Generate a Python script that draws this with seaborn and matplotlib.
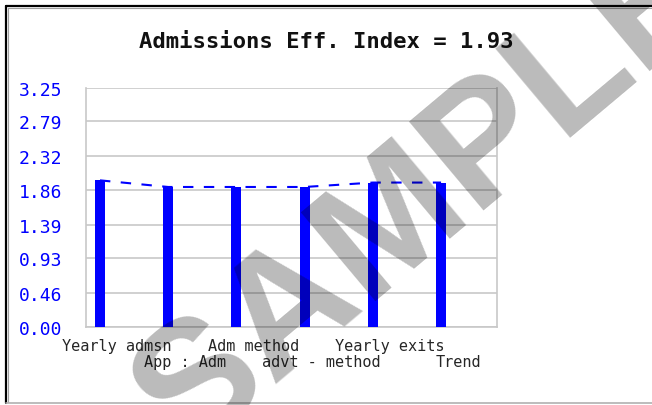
import numpy as np
import pandas as pd
import seaborn as sns
import matplotlib.pyplot as plt
from matplotlib.lines import Line2D


categories = ["Yearly admsn", "App : Adm", "Adm method", "advt - method", "Yearly exits", "Trend"]
values = [1.99, 1.90, 1.90, 1.90, 1.96, 1.96]
ytick_values = [0.00, 0.46, 0.93, 1.39, 1.86, 2.32, 2.79, 3.25]
ytick_labels = ["0.00", "0.46", "0.93", "1.39", "1.86", "2.32", "2.79", "3.25"]
title = "Admissions Eff. Index = 1.93"

BLUE = "#0000ff"
GRID = "#c8c8c8"

sns.set_style("white")
plt.rcParams["font.family"] = ["DejaVu Sans Mono", "DejaVu Sans"]

df = pd.DataFrame({"category": categories, "value": values})

fig = plt.figure(figsize=(6.52, 4.06), dpi=100)
ax = fig.add_axes([86 / 652, 1 - 328 / 406, 411 / 652, 239.5 / 406])

# dashed trend line through the bar tops (drawn under the bars)
sns.lineplot(x=np.arange(len(values)), y=values, ax=ax, color=BLUE,
             linewidth=1.5, zorder=2)
ax.lines[-1].set_dashes((5, 5))

sns.barplot(data=df, x="category", y="value", ax=ax, color=BLUE,
            width=0.147, saturation=1, zorder=3, linewidth=0)

ax.set_xlim(-0.205, 5.82)
ax.set_ylim(0, 3.25)
ax.set_yticks(ytick_values)
ax.set_yticklabels(ytick_labels, color=BLUE, fontsize=13)
ax.yaxis.grid(True, color=GRID, linewidth=1.2, zorder=0)
ax.set_axisbelow(True)

# labels alternate between two rows
xlabels = [c if i % 2 == 0 else "\n" + c for i, c in enumerate(categories)]
ax.set_xticks(np.arange(len(categories)) + 0.25)
ax.set_xticklabels(xlabels, fontsize=11, linespacing=1.05)
ax.tick_params(axis="x", length=0, pad=8)
ax.tick_params(axis="y", length=0, pad=17)
ax.set_xlabel("")
ax.set_ylabel("")

for side in ["left", "right", "bottom"]:
    ax.spines[side].set_color(GRID)
    ax.spines[side].set_linewidth(1.2)
ax.spines["top"].set_visible(False)

fig.text(0.5, 1 - 42 / 406, title, ha="center", va="center",
         fontsize=16, fontweight="bold", color="#111111")

# outer frame: dark top/left with a grey inner shadow, light bottom
fig.add_artist(Line2D([6 / 652, 1], [1 - 7 / 406] * 2, color="black", linewidth=1.6))
fig.add_artist(Line2D([6 / 652] * 2, [1 - 7 / 406, 1 - 404 / 406], color="black", linewidth=1.6))
fig.add_artist(Line2D([8 / 652, 1], [1 - 9 / 406] * 2, color="#a0a0a0", linewidth=0.8))
fig.add_artist(Line2D([8 / 652] * 2, [1 - 9 / 406, 1 - 403 / 406], color="#a0a0a0", linewidth=0.8))
fig.add_artist(Line2D([6 / 652, 1], [1 - 404 / 406] * 2, color="#b0b0b0", linewidth=1.2))

# watermark
fig.text(428 / 652, 1 - 196 / 406, "SAMPLE", ha="center", va="center",
         rotation=40, rotation_mode="anchor", fontsize=122,
         fontweight="bold", family="Liberation Sans", color="black",
         alpha=0.27, zorder=10)

fig.savefig("out.png", dpi=100)
